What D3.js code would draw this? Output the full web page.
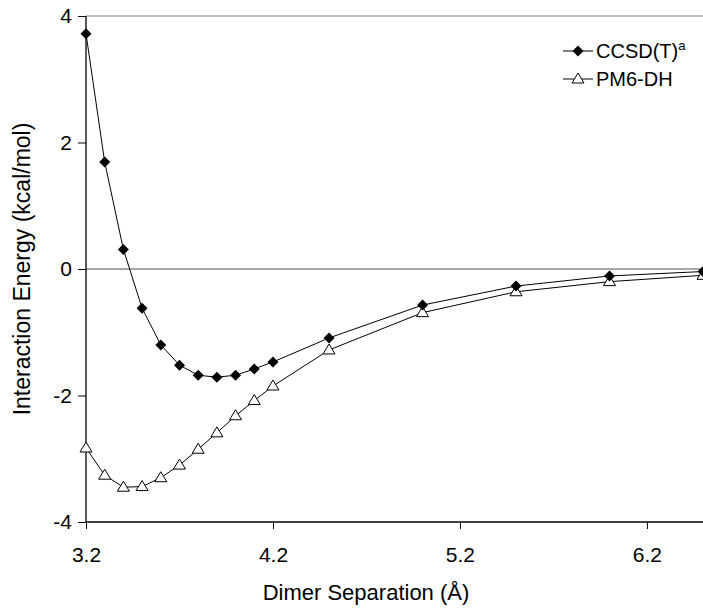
<!DOCTYPE html>
<html><head><meta charset="utf-8">
<script src="https://cdn.jsdelivr.net/npm/d3@7"></script>
<style>body{margin:0;background:#fff}svg{display:block;font-family:"Liberation Sans",Arial,sans-serif}</style>
</head><body><svg id="c" width="703" height="611"></svg>
<script>
const separations = [3.2,3.3,3.4,3.5,3.6,3.7,3.8,3.9,4.0,4.1,4.2,4.5,5.0,5.5,6.0,6.5];
const ccsdValues = [3.72,1.69,0.31,-0.62,-1.20,-1.52,-1.68,-1.71,-1.68,-1.58,-1.47,-1.09,-0.57,-0.27,-0.11,-0.04];
const pm6Values = [-2.83,-3.26,-3.45,-3.44,-3.30,-3.10,-2.85,-2.59,-2.32,-2.08,-1.85,-1.28,-0.69,-0.36,-0.20,-0.10];
const xTicks = [3.2,4.2,5.2,6.2];
const yTicks = [-4,-2,0,2,4];
const seriesNames = ["CCSD(T)","PM6-DH"];

const svg = d3.select("#c");
const x = d3.scaleLinear().domain([3.2,6.5]).range([86,703]);
const y = d3.scaleLinear().domain([-4,4]).range([522,16]);

// top border & zero line
svg.append("line").attr("x1",x(3.2)).attr("x2",703).attr("y1",y(4)).attr("y2",y(4)).attr("stroke","#808080").attr("stroke-width",1.2);
svg.append("line").attr("x1",x(3.2)).attr("x2",703).attr("y1",y(0)).attr("y2",y(0)).attr("stroke","#505050").attr("stroke-width",1.2);

const yAxis = d3.axisLeft(y).tickValues(yTicks).tickFormat(d=>String(d)).tickSize(8).tickPadding(6);
const gy = svg.append("g").attr("transform",`translate(${x(3.2)},0)`).call(yAxis);
const xAxis = d3.axisBottom(x).tickValues(xTicks).tickFormat(d3.format(".1f")).tickSize(7).tickPadding(18);
const gx = svg.append("g").attr("transform",`translate(0,${y(-4)})`).call(xAxis);
[gx,gy].forEach(g=>{
  g.select(".domain").attr("stroke","#000").attr("stroke-width",1.3);
  g.selectAll(".tick line").attr("stroke","#000").attr("stroke-width",1);
  g.selectAll("text").attr("font-size",21).attr("fill","#000").attr("font-family","Liberation Sans, Arial, sans-serif");
});
gx.select(".domain").attr("d",`M${x(3.2)},0H703`);
gy.select(".domain").attr("d",`M0,${y(4)}V${y(-4)}`);

svg.append("text").attr("x",366).attr("y",600).attr("text-anchor","middle")
  .attr("font-size",22).text("Dimer Separation (Å)");
svg.append("text").attr("transform",`translate(30,${y(0)}) rotate(-90)`).attr("text-anchor","middle")
  .attr("font-size",23).text("Interaction Energy (kcal/mol)");

const line = d3.line().x(d=>x(d[0])).y(d=>y(d[1]));
const pts1 = separations.map((s,i)=>[s,ccsdValues[i]]);
const pts2 = separations.map((s,i)=>[s,pm6Values[i]]);
const diamond = "M0,-5.5L5.5,0L0,5.5L-5.5,0Z";
const tri = "M0,-6L6,4L-6,4Z";

svg.append("path").datum(pts2).attr("d",line).attr("fill","none").attr("stroke","#000").attr("stroke-width",1);
svg.append("path").datum(pts1).attr("d",line).attr("fill","none").attr("stroke","#000").attr("stroke-width",1);
svg.selectAll(".t").data(pts2).enter().append("path").attr("d",tri)
  .attr("transform",d=>`translate(${x(d[0])},${y(d[1])})`).attr("fill","#fff").attr("stroke","#000").attr("stroke-width",1);
svg.selectAll(".dm").data(pts1).enter().append("path").attr("d",diamond)
  .attr("transform",d=>`translate(${x(d[0])},${y(d[1])})`).attr("fill","#000");

// legend
const lg = svg.append("g");
const rows = [{y:51,shape:diamond,fill:"#000"},{y:79,shape:tri,fill:"#fff"}];
rows.forEach((r,i)=>{
  lg.append("line").attr("x1",563).attr("x2",593).attr("y1",r.y).attr("y2",r.y).attr("stroke","#000");
  lg.append("path").attr("d",r.shape).attr("transform",`translate(578,${r.y})`).attr("fill",r.fill).attr("stroke","#000").attr("stroke-width",i?1:0);
  const t = lg.append("text").attr("x",596).attr("y",r.y+7).attr("font-size",20).text(seriesNames[i]);
  if(i===0) t.append("tspan").attr("font-size",13).attr("dy",-8).text("a");
});
</script></body></html>
